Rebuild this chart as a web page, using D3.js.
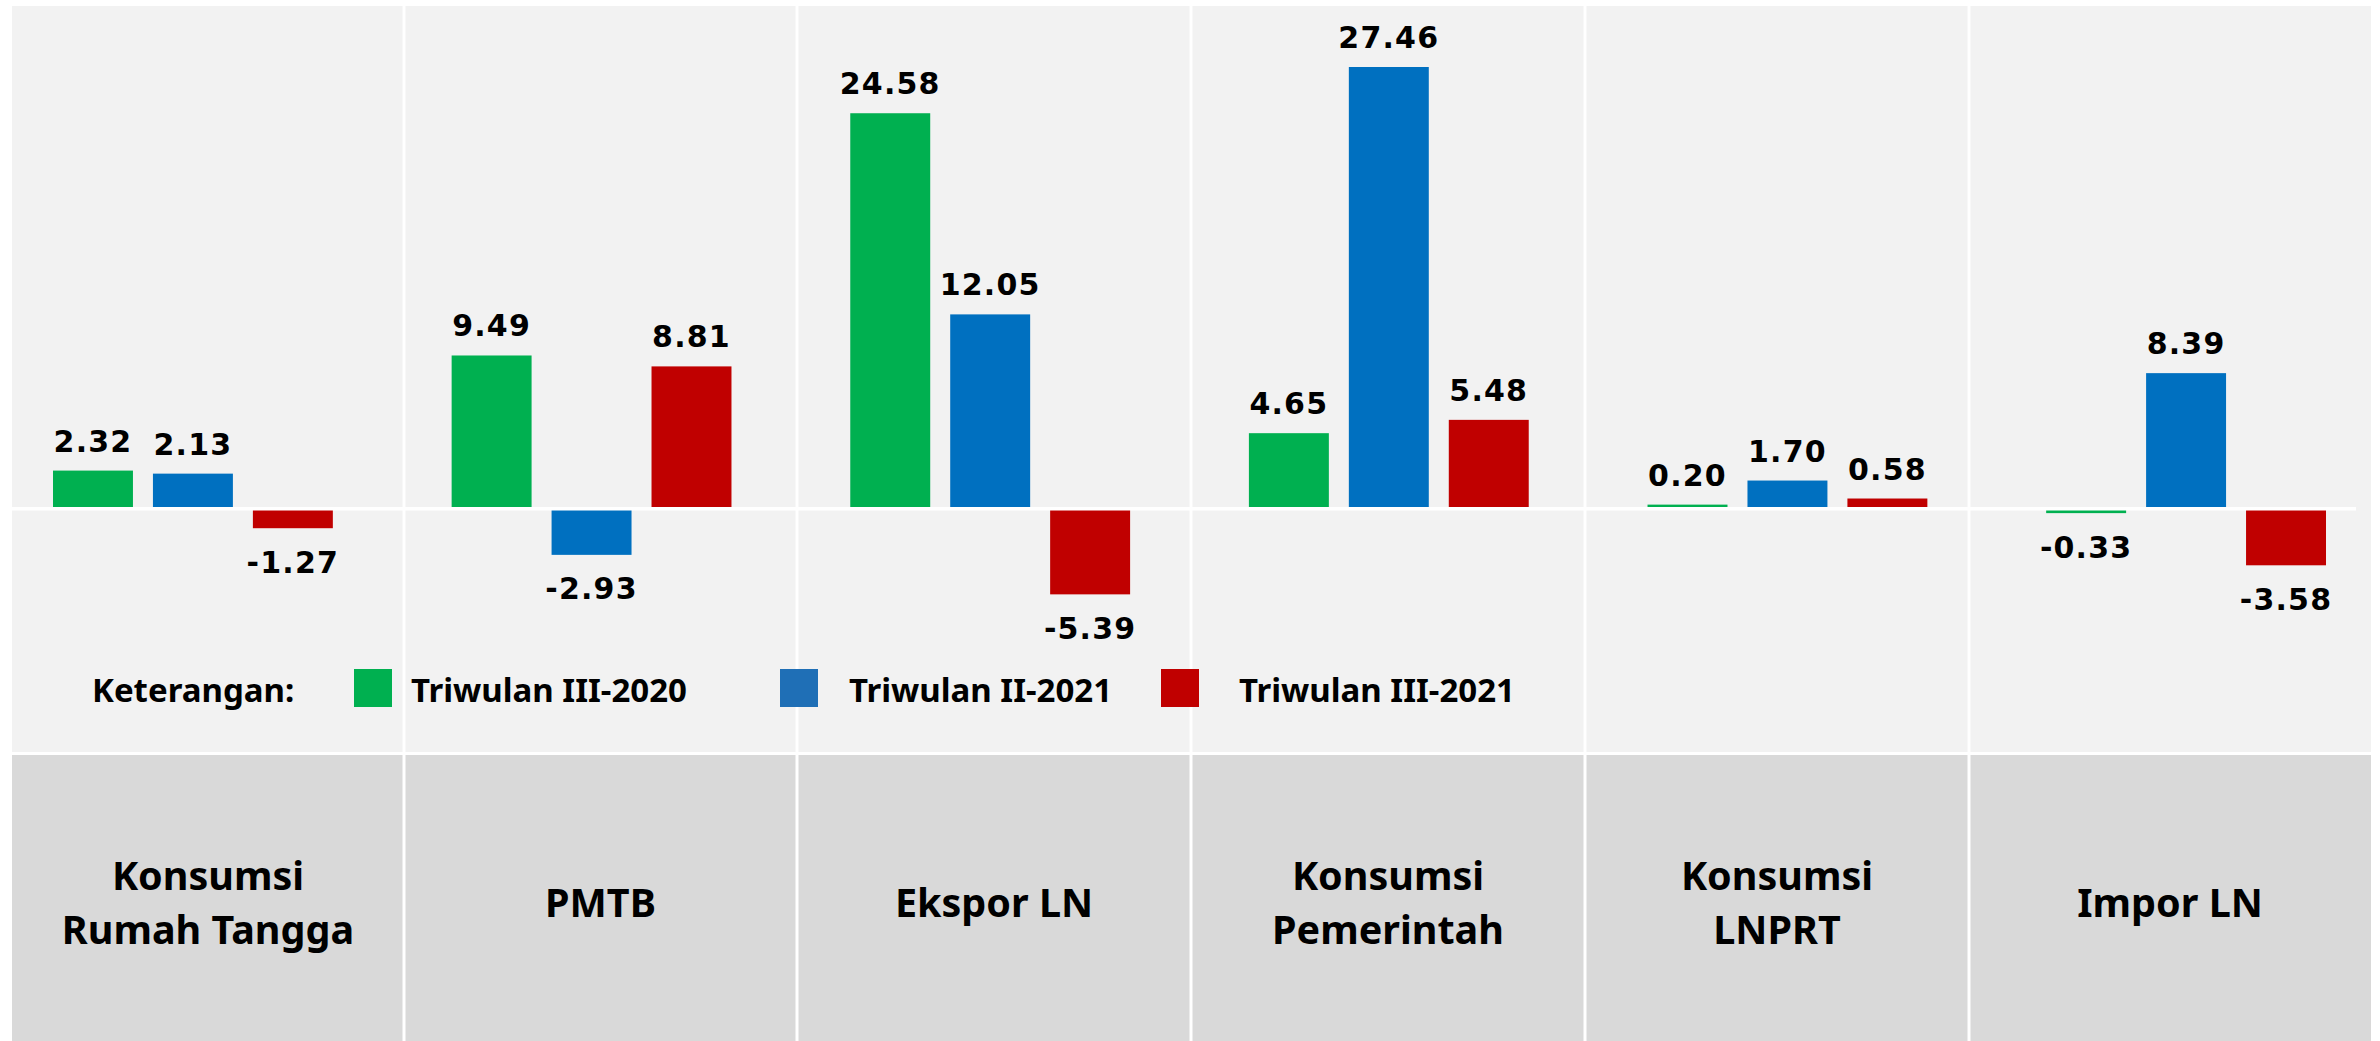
<!DOCTYPE html>
<html>
<head>
<meta charset="utf-8">
<script src="https://cdn.jsdelivr.net/npm/d3@7"></script>
<style>
  body { margin: 0; background: #fff; }
  .value { font-family: 'DejaVu Sans', sans-serif; font-weight: bold; font-size: 30px; letter-spacing: 1.2px; }
  .cat { font-family: 'Noto Sans', sans-serif; font-weight: bold; font-size: 39.5px; }
  .legend { font-family: 'Noto Sans', sans-serif; font-weight: bold; font-size: 33px; }
</style>
</head>
<body>
<svg id="chart"></svg>
<script>
  // categories (line breaks as in the original table header)
  const categories = ['Konsumsi\nRumah Tangga', 'PMTB', 'Ekspor LN', 'Konsumsi\nPemerintah', 'Konsumsi\nLNPRT', 'Impor LN']
  const seriesNames = ['Triwulan III-2020', 'Triwulan II-2021', 'Triwulan III-2021']

  const triwulan3_2020 = [2.32, 9.49, 24.58, 4.65, 0.20, -0.33]
  const triwulan2_2021 = [2.13, -2.93, 12.05, 27.46, 1.70, 8.39]
  const triwulan3_2021 = [-1.27, 8.81, -5.39, 5.48, 0.58, -3.58]

  const legendTitle = 'Keterangan:'

  const series = [triwulan3_2020, triwulan2_2021, triwulan3_2021]
  const barColors = ['#00B050', '#0070C0', '#C00000']
  const legendColors = ['#00B050', '#1F6FB6', '#C00000']

  const width = 2380
  const height = 1041

  // table cells behind the chart
  const cellEdges = [12, 404, 797, 1191, 1585, 1969, 2371]
  const topRow = [6, 752]
  const bottomRow = [755, 1041]

  const svg = d3.select('#chart')
    .attr('width', width)
    .attr('height', height)

  const x = d3.scaleBand()
    .domain(d3.range(categories.length))
    .range([53, 2326])
    .paddingInner(0.298)
    .paddingOuter(0)

  const xInner = d3.scaleBand()
    .domain(d3.range(series.length))
    .range([0, x.bandwidth()])
    .paddingInner(0.2)
    .paddingOuter(0)

  const y = d3.scaleLinear()
    .domain([-15.21, 31.26])
    .range([topRow[1], topRow[0]])

  const cells = d3.range(categories.length).map(i => ({i, x0: cellEdges[i], x1: cellEdges[i + 1]}))

  function cellX(d) { return d.x0 + (d.i ? 1.5 : 0) }
  function cellW(d) { return d.x1 - d.x0 - (d.i ? 1.5 : 0) - (d.i < categories.length - 1 ? 1.5 : 0) }

  svg.selectAll('.topCell')
    .data(cells)
    .enter()
    .append('rect')
    .attr('x', cellX)
    .attr('y', topRow[0])
    .attr('width', cellW)
    .attr('height', topRow[1] - topRow[0])
    .attr('fill', '#F2F2F2')

  svg.selectAll('.bottomCell')
    .data(cells)
    .enter()
    .append('rect')
    .attr('x', cellX)
    .attr('y', bottomRow[0])
    .attr('width', cellW)
    .attr('height', bottomRow[1] - bottomRow[0])
    .attr('fill', '#D9D9D9')

  // flatten values into bars
  const bars = []
  series.forEach((values, s) => {
    values.forEach((v, c) => bars.push({c, s, v}))
  })

  const g = svg.append('g')

  g.selectAll('.bar')
    .data(bars)
    .enter()
    .append('rect')
    .classed('bar', true)
    .attr('x', d => x(d.c) + xInner(d.s))
    .attr('y', d => y(Math.max(0, d.v)))
    .attr('width', xInner.bandwidth())
    .attr('height', d => Math.abs(y(d.v) - y(0)))
    .attr('fill', d => barColors[d.s])

  // zero line
  svg.append('line')
    .attr('x1', cellEdges[0])
    .attr('x2', 2356)
    .attr('y1', y(0) + 1)
    .attr('y2', y(0) + 1)
    .attr('stroke', '#fff')
    .attr('stroke-width', 3.5)

  g.selectAll('.value')
    .data(bars)
    .enter()
    .append('text')
    .classed('value', true)
    .attr('x', d => x(d.c) + xInner(d.s) + xInner.bandwidth() / 2)
    .attr('y', d => d.v >= 0 ? y(d.v) - 19 : y(d.v) + 44.5)
    .attr('text-anchor', 'middle')
    .attr('fill', '#000')
    .text(d => d.v.toFixed(2))

  // category labels in the bottom row
  const catLabels = svg.selectAll('.cat')
    .data(cells)
    .enter()
    .append('text')
    .classed('cat', true)
    .attr('text-anchor', 'middle')
    .attr('fill', '#000')

  catLabels.each(function(d) {
    const lines = categories[d.i].split('\n')
    const cx = (d.x0 + d.x1) / 2
    const first = lines.length > 1 ? 890 : 917
    d3.select(this)
      .selectAll('tspan')
      .data(lines)
      .enter()
      .append('tspan')
      .attr('x', cx)
      .attr('y', (l, k) => first + k * 54)
      .text(l => l)
  })

  // legend
  const legendSwatchX = [354, 780, 1161]
  const legendTextX = [411, 849, 1239]

  svg.append('text')
    .classed('legend', true)
    .attr('x', 92)
    .attr('y', 702)
    .text(legendTitle)

  const legend = svg.selectAll('.legendItem')
    .data(seriesNames)
    .enter()
    .append('g')

  legend.append('rect')
    .attr('x', (d, i) => legendSwatchX[i])
    .attr('y', 669)
    .attr('width', 38)
    .attr('height', 38)
    .attr('fill', (d, i) => legendColors[i])

  legend.append('text')
    .classed('legend', true)
    .attr('x', (d, i) => legendTextX[i])
    .attr('y', 702)
    .text(d => d)
</script>
</body>
</html>
